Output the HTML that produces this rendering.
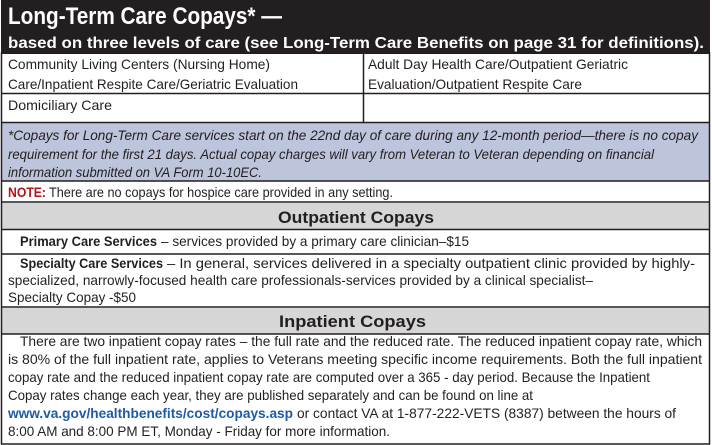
<!DOCTYPE html>
<html><head><meta charset="utf-8"><style>
html,body{margin:0;padding:0;background:#fff;width:712px;height:445px;overflow:hidden}
svg{display:block}
text{font-family:"Liberation Sans",sans-serif;fill:#231f20}
</style></head><body>
<svg width="712" height="445" viewBox="0 0 712 445" xmlns="http://www.w3.org/2000/svg">
<rect x="0" y="0" width="712" height="445" fill="#fff"/>
<rect x="1" y="0" width="709" height="54" fill="#231f20"/>
<text x="8" y="24" font-size="24" font-weight="bold" style="fill:#fff" textLength="274" lengthAdjust="spacingAndGlyphs">Long-Term Care Copays* —</text>
<text x="8" y="48" font-size="16" font-weight="bold" style="fill:#fff" textLength="696" lengthAdjust="spacingAndGlyphs">based on three levels of care (see Long-Term Care Benefits on page 31 for definitions).</text>

<rect x="1" y="123" width="708" height="58" fill="#bcc5dc"/>
<rect x="1" y="203" width="708" height="26" fill="#d6d6d6"/>
<rect x="1" y="308" width="708" height="26" fill="#d6d6d6"/>

<g stroke="#231f20" stroke-width="1.5" fill="none">
<rect x="1.5" y="53" width="708" height="391"/>
<line x1="1" y1="93.5" x2="710" y2="93.5"/>
<line x1="1" y1="122.5" x2="710" y2="122.5"/>
<line x1="1" y1="181" x2="710" y2="181"/>
<line x1="1" y1="202" x2="710" y2="202"/>
<line x1="1" y1="229.5" x2="710" y2="229.5"/>
<line x1="1" y1="254" x2="710" y2="254"/>
<line x1="1" y1="307" x2="710" y2="307"/>
<line x1="1" y1="334" x2="710" y2="334"/>
<line x1="363.5" y1="53" x2="363.5" y2="122"/>
</g>

<g font-size="14">
<text x="8" y="69" textLength="262" lengthAdjust="spacingAndGlyphs">Community Living Centers (Nursing Home)</text>
<text x="8" y="89" textLength="290" lengthAdjust="spacingAndGlyphs">Care/Inpatient Respite Care/Geriatric Evaluation</text>
<text x="368" y="69" textLength="260" lengthAdjust="spacingAndGlyphs">Adult Day Health Care/Outpatient Geriatric</text>
<text x="368" y="89" textLength="214" lengthAdjust="spacingAndGlyphs">Evaluation/Outpatient Respite Care</text>
<text x="8" y="110" textLength="104" lengthAdjust="spacingAndGlyphs">Domiciliary Care</text>
</g>
<g font-size="14" font-style="italic">
<text x="8" y="140" textLength="690" lengthAdjust="spacingAndGlyphs">*Copays for Long-Term Care services start on the 22nd day of care during any 12-month period—there is no copay</text>
<text x="8" y="159" textLength="646" lengthAdjust="spacingAndGlyphs">requirement for the first 21 days.  Actual copay charges will vary from Veteran to Veteran depending on financial</text>
<text x="8" y="177" textLength="254" lengthAdjust="spacingAndGlyphs">information submitted on VA Form 10-10EC.</text>
</g>
<text x="8" y="197" font-size="14" font-weight="bold" style="fill:#b5121b" textLength="38" lengthAdjust="spacingAndGlyphs">NOTE:</text>
<text x="49" y="197" font-size="14" textLength="344" lengthAdjust="spacingAndGlyphs">There are no copays for hospice care provided in any setting.</text>

<text x="278" y="223" font-size="17" font-weight="bold" textLength="156" lengthAdjust="spacingAndGlyphs">Outpatient Copays</text>
<text x="20" y="246" font-size="14" font-weight="bold" textLength="137" lengthAdjust="spacingAndGlyphs">Primary Care Services</text>
<text x="161" y="246" font-size="14" textLength="308" lengthAdjust="spacingAndGlyphs">– services provided by a primary care clinician–$15</text>
<text x="20" y="268" font-size="14" font-weight="bold" textLength="143" lengthAdjust="spacingAndGlyphs">Specialty Care Services</text>
<text x="167" y="268" font-size="14" textLength="528" lengthAdjust="spacingAndGlyphs">– In general, services delivered in a specialty outpatient clinic provided by highly-</text>
<text x="8" y="285" font-size="14" textLength="585" lengthAdjust="spacingAndGlyphs">specialized, narrowly-focused health care professionals-services provided by a clinical specialist–</text>
<text x="8" y="302" font-size="14" textLength="128" lengthAdjust="spacingAndGlyphs">Specialty Copay -$50</text>

<text x="279" y="327" font-size="17" font-weight="bold" textLength="147" lengthAdjust="spacingAndGlyphs">Inpatient Copays</text>
<g font-size="14">
<text x="20" y="346" textLength="682" lengthAdjust="spacingAndGlyphs">There are two inpatient copay rates – the full rate and the reduced rate. The reduced inpatient copay rate, which</text>
<text x="8" y="364" textLength="694" lengthAdjust="spacingAndGlyphs">is 80% of the full inpatient rate, applies to Veterans meeting specific income requirements. Both the full inpatient</text>
<text x="8" y="382" textLength="642" lengthAdjust="spacingAndGlyphs">copay rate and the reduced inpatient copay rate are computed over a 365 - day period. Because the Inpatient</text>
<text x="8" y="400" textLength="525" lengthAdjust="spacingAndGlyphs">Copay rates change each year, they are published separately and can be found on line at</text>
<text x="8" y="418" font-weight="bold" style="fill:#1f5aa6" textLength="285" lengthAdjust="spacingAndGlyphs">www.va.gov/healthbenefits/cost/copays.asp</text>
<text x="297" y="418" textLength="379" lengthAdjust="spacingAndGlyphs">or contact VA at 1-877-222-VETS (8387) between the hours of</text>
<text x="8" y="436" textLength="382" lengthAdjust="spacingAndGlyphs">8:00 AM and 8:00 PM ET, Monday - Friday for more information.</text>
</g>
</svg>
</body></html>
